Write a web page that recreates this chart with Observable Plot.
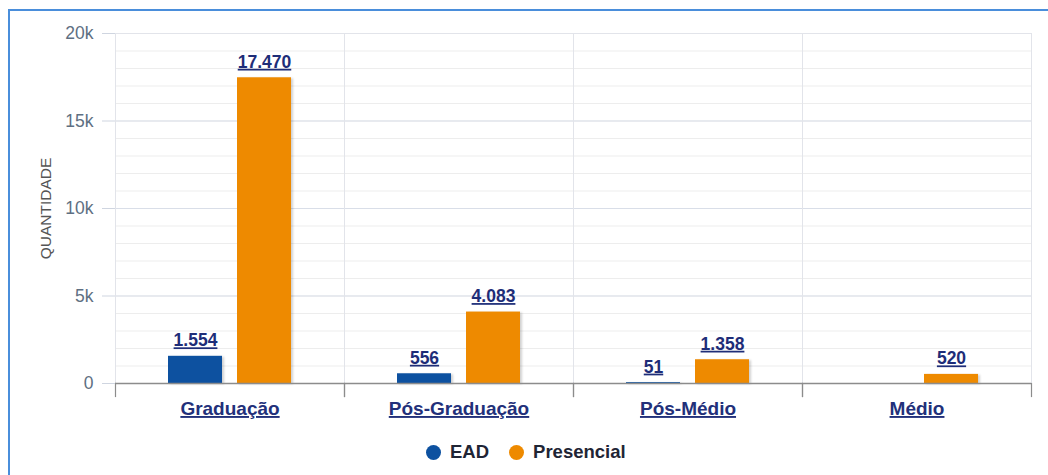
<!DOCTYPE html>
<html lang="pt-BR">
<head>
<meta charset="utf-8">
<script src="https://cdn.jsdelivr.net/npm/d3@7"></script>
<script src="https://cdn.jsdelivr.net/npm/@observablehq/plot@0.6"></script>
<style>
  html, body { margin: 0; padding: 0; background: #fff; overflow: hidden; }
  body { width: 1048px; height: 475px; position: relative; font-family: "Liberation Sans", Arial, sans-serif; }
  #moldura { position: absolute; left: 8px; top: 9px; width: 1200px; height: 600px;
             border-left: 2px solid #4a8edb; border-top: 2px solid #4a8edb; }
  #grafico { position: absolute; left: 0; top: 0; }
  #grafico svg { overflow: visible; }
  .rotulo text, .categoria text { text-decoration: underline; }
  .barras { filter: drop-shadow(2px 1px 1px rgba(0,0,0,0.18)); }
  #legenda { position: absolute; left: 426px; top: 441px; display: flex; align-items: center;
             font: bold 18.5px "Liberation Sans", Arial, sans-serif; color: #1f2535; }
  #legenda .item { display: flex; align-items: center; margin-right: 20px; }
  #legenda .bola { width: 15px; height: 15px; border-radius: 50%; margin-right: 9px; }
</style>
</head>
<body>
<div id="moldura"></div>
<div id="grafico"></div>
<div id="legenda"></div>
<script>
// Matrículas por nível e modalidade
const categorias = ["Graduação", "Pós-Graduação", "Pós-Médio", "Médio"];
const modalidades = ["EAD", "Presencial"];
const valoresEAD = [1554, 556, 51, null];
const valoresPresencial = [17470, 4083, 1358, 520];
const cores = ["#0d51a0", "#ee8a00"];
const ticksY = [0, 5000, 10000, 15000, 20000];
const ticksMenores = d3.range(0, 20001, 1000);

const dados = [];
categorias.forEach((c, i) => {
  if (valoresEAD[i] != null) dados.push({categoria: c, modalidade: "EAD", valor: valoresEAD[i]});
  if (valoresPresencial[i] != null) dados.push({categoria: c, modalidade: "Presencial", valor: valoresPresencial[i]});
});

const br = d3.formatLocale({decimal: ",", thousands: ".", grouping: [3], currency: ["R$", ""]});
const fmt = br.format(",d");

const W = 1048, H = 420, mT = 33, mB = 37, mL = 113, mR = 16;
const alturaUtil = H - mT - mB;

const chart = Plot.plot({
  width: W,
  height: H,
  marginTop: mT,
  marginBottom: mB,
  marginLeft: mL,
  marginRight: mR,
  style: {fontFamily: "'Liberation Sans', Arial, sans-serif", background: "transparent"},
  fx: {domain: categorias, padding: 0, label: null},
  x: {domain: modalidades, paddingInner: 0.214, paddingOuter: 0.748, axis: null},
  y: {domain: [0, 20000], label: null},
  color: {domain: modalidades, range: cores},
  marks: [
    Plot.gridY(ticksMenores, {stroke: "#ededed", strokeOpacity: 1}),
    Plot.gridY(ticksY, {stroke: "#d9dee8", strokeOpacity: 1}),
    Plot.frame({stroke: "#e2e4ea"}),
    Plot.barY(dados, {fx: "categoria", x: "modalidade", y: "valor", fill: "modalidade", className: "barras"}),
    Plot.text(dados, {
      fx: "categoria", x: "modalidade", y: "valor", text: d => fmt(d.valor),
      lineAnchor: "bottom", dy: -10, fontSize: 17.5, fontWeight: "bold", fill: "#1e2d78", className: "rotulo"
    }),
    Plot.ruleY([0], {stroke: "#8c8c8c", strokeWidth: 1.5}),
    Plot.frame({anchor: "left", insetTop: alturaUtil, insetBottom: -13, stroke: "#8c8c8c", strokeWidth: 1.2}),
    Plot.frame({anchor: "right", insetTop: alturaUtil, insetBottom: -13, stroke: "#8c8c8c", strokeWidth: 1.2}),
    Plot.axisY({
      ticks: ticksY, tickFormat: d => d === 0 ? "0" : d / 1000 + "k",
      tickSize: 13, tickPadding: 9, fontSize: 17.5, fill: "#5e6f82", stroke: "#cfd5e0", label: null
    }),
    Plot.text([{categoria: categorias[0]}], {
      fx: "categoria", frameAnchor: "left", textAnchor: "middle", text: () => "QUANTIDADE", rotate: -90,
      dx: -69, fontSize: 15.5, fill: "#555"
    }),
    Plot.axisFx({
      anchor: "bottom", tickSize: 0, tickPadding: 18, fontSize: 19, fontWeight: "bold",
      fill: "#22307a", label: null, className: "categoria"
    })
  ]
});

document.getElementById("grafico").append(chart);

// Legenda com marcadores circulares
const legenda = d3.select("#legenda");
modalidades.forEach((m, i) => {
  const item = legenda.append("div").attr("class", "item");
  item.append("div").attr("class", "bola").style("background", cores[i]);
  item.append("span").text(m);
});
</script>
</body>
</html>
